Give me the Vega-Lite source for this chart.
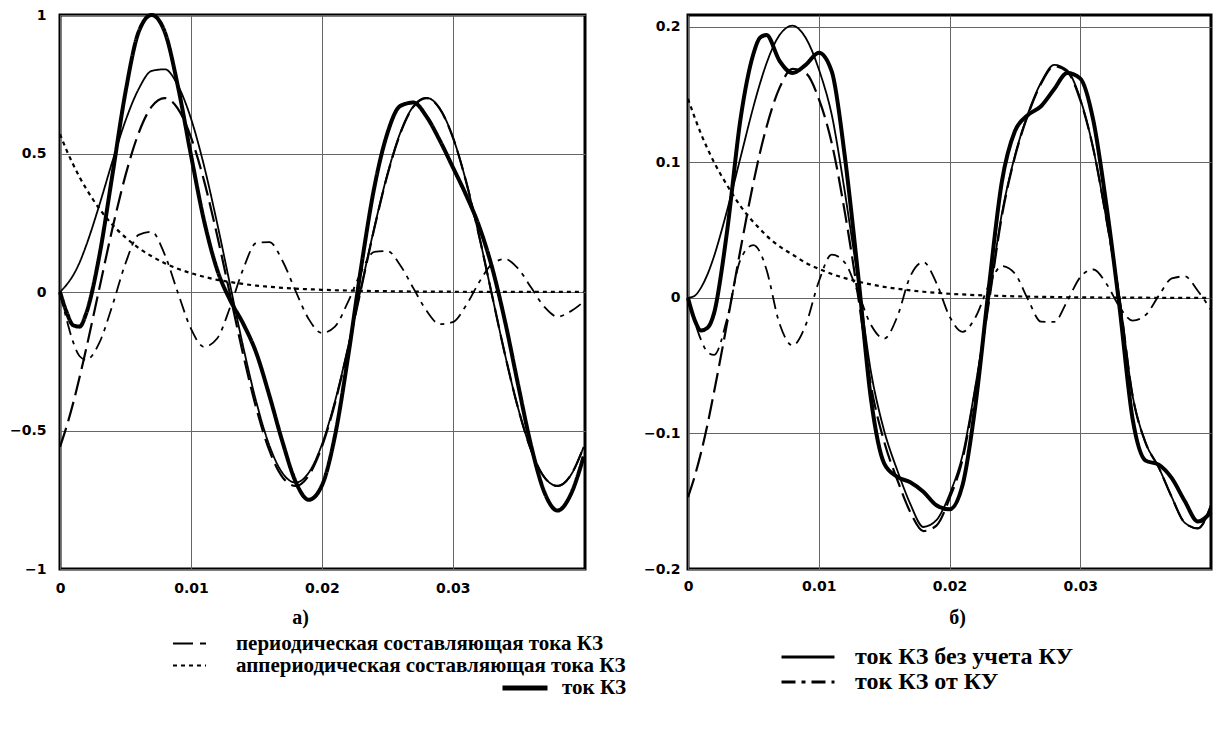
{
  "$schema": "https://vega.github.io/schema/vega-lite/v6.json",
  "background": "white",
  "padding": {"left": 7, "top": 5, "right": 0, "bottom": 5},
  "bounds": "flush",
  "spacing": 103,
  "resolve": {"scale": {"strokeDash": "independent"}, "legend": {"strokeDash": "independent"}},
  "config": {
    "view": {"stroke": "#000", "strokeWidth": 3},
    "axis": {"labelFont": "DejaVu Sans", "labelFontWeight": "bold", "labelFontSize": 14, "labelColor": "#000", "labelFlush": false, "domain": false, "ticks": false, "gridColor": "#666", "gridWidth": 1, "gridOpacity": 1, "titleFont": "Liberation Serif", "titleFontSize": 20, "titleFontWeight": "bold", "titleColor": "#000"},
    "legend": {"symbolType": "stroke", "symbolStrokeColor": "#000", "labelFont": "Liberation Serif", "labelFontSize": 21, "labelFontWeight": "bold", "labelColor": "#000", "labelLimit": 600, "padding": 0, "title": null},
    "line": {"interpolate": "monotone", "color": "#000"}
  },
  "datasets": {
    "a": [
      {"t":0,"P":-0.559,"D":0.57,"N":0,"K":0,"T":0},
      {"t":0.0005,"P":-0.486,"D":0.512,"N":0.026,"K":-0.098,"T":-0.072},
      {"t":0.001,"P":-0.402,"D":0.461,"N":0.06,"K":-0.18,"T":-0.12},
      {"t":0.0015,"P":-0.307,"D":0.414,"N":0.107,"K":-0.232,"T":-0.125},
      {"t":0.002,"P":-0.205,"D":0.373,"N":0.168,"K":-0.245,"T":-0.077},
      {"t":0.003,"P":0.012,"D":0.301,"N":0.313,"K":-0.184,"T":0.129},
      {"t":0.004,"P":0.228,"D":0.243,"N":0.471,"K":-0.049,"T":0.422},
      {"t":0.005,"P":0.421,"D":0.197,"N":0.618,"K":0.103,"T":0.721},
      {"t":0.006,"P":0.573,"D":0.159,"N":0.732,"K":0.206,"T":0.938},
      {"t":0.007,"P":0.669,"D":0.129,"N":0.798,"K":0.217,"T":1.0},
      {"t":0.008,"P":0.7,"D":0.104,"N":0.804,"K":0.135,"T":0.939},
      {"t":0.009,"P":0.662,"D":0.084,"N":0.746,"K":-0.002,"T":0.744},
      {"t":0.01,"P":0.559,"D":0.068,"N":0.627,"K":-0.132,"T":0.495},
      {"t":0.011,"P":0.402,"D":0.055,"N":0.456,"K":-0.198,"T":0.258},
      {"t":0.012,"P":0.205,"D":0.044,"N":0.249,"K":-0.168,"T":0.081},
      {"t":0.013,"P":-0.012,"D":0.036,"N":0.024,"K":-0.054,"T":-0.03},
      {"t":0.014,"P":-0.228,"D":0.029,"N":-0.199,"K":0.084,"T":-0.115},
      {"t":0.015,"P":-0.421,"D":0.023,"N":-0.398,"K":0.177,"T":-0.221},
      {"t":0.016,"P":-0.573,"D":0.019,"N":-0.555,"K":0.18,"T":-0.375},
      {"t":0.017,"P":-0.669,"D":0.015,"N":-0.654,"K":0.112,"T":-0.542},
      {"t":0.018,"P":-0.7,"D":0.012,"N":-0.688,"K":0.003,"T":-0.685},
      {"t":0.019,"P":-0.662,"D":0.01,"N":-0.652,"K":-0.098,"T":-0.75},
      {"t":0.02,"P":-0.559,"D":0.008,"N":-0.551,"K":-0.148,"T":-0.699},
      {"t":0.021,"P":-0.402,"D":0.0065,"N":-0.395,"K":-0.125,"T":-0.52},
      {"t":0.022,"P":-0.205,"D":0.0053,"N":-0.199,"K":-0.036,"T":-0.235},
      {"t":0.023,"P":0.012,"D":0.0043,"N":0.0165,"K":0.072,"T":0.089},
      {"t":0.024,"P":0.228,"D":0.0035,"N":0.231,"K":0.145,"T":0.376},
      {"t":0.025,"P":0.421,"D":0.0028,"N":0.424,"K":0.148,"T":0.572},
      {"t":0.026,"P":0.573,"D":0.0023,"N":0.576,"K":0.096,"T":0.672},
      {"t":0.027,"P":0.669,"D":0.0018,"N":0.671,"K":0.013,"T":0.684},
      {"t":0.028,"P":0.7,"D":0.0015,"N":0.701,"K":-0.068,"T":0.633},
      {"t":0.029,"P":0.662,"D":0.0012,"N":0.663,"K":-0.116,"T":0.548},
      {"t":0.03,"P":0.559,"D":0.001,"N":0.56,"K":-0.109,"T":0.451},
      {"t":0.031,"P":0.402,"D":0.0008,"N":0.402,"K":-0.05,"T":0.352},
      {"t":0.032,"P":0.205,"D":0.0006,"N":0.205,"K":0.034,"T":0.239},
      {"t":0.033,"P":-0.012,"D":0.0005,"N":-0.012,"K":0.101,"T":0.089},
      {"t":0.034,"P":-0.228,"D":0.0004,"N":-0.228,"K":0.119,"T":-0.108},
      {"t":0.035,"P":-0.421,"D":0.0003,"N":-0.421,"K":0.084,"T":-0.337},
      {"t":0.036,"P":-0.573,"D":0.0002,"N":-0.573,"K":0.015,"T":-0.558},
      {"t":0.037,"P":-0.669,"D":0.0002,"N":-0.669,"K":-0.054,"T":-0.723},
      {"t":0.038,"P":-0.7,"D":0.0001,"N":-0.7,"K":-0.089,"T":-0.789},
      {"t":0.039,"P":-0.662,"D":0.0001,"N":-0.662,"K":-0.07,"T":-0.732},
      {"t":0.04,"P":-0.559,"D":0.0001,"N":-0.559,"K":-0.035,"T":-0.594}
    ],
    "b": [
      {"t":0,"P":-0.147,"D":0.147,"N":0,"K":0,"T":0},
      {"t":0.0005,"P":-0.132,"D":0.1335,"N":0.0014,"K":-0.017,"T":-0.016},
      {"t":0.001,"P":-0.114,"D":0.121,"N":0.0076,"K":-0.031,"T":-0.024},
      {"t":0.0015,"P":-0.093,"D":0.11,"N":0.0176,"K":-0.04,"T":-0.022},
      {"t":0.002,"P":-0.069,"D":0.1,"N":0.031,"K":-0.042,"T":-0.011},
      {"t":0.003,"P":-0.018,"D":0.083,"N":0.065,"K":-0.015,"T":0.05},
      {"t":0.004,"P":0.035,"D":0.068,"N":0.103,"K":0.028,"T":0.131},
      {"t":0.005,"P":0.085,"D":0.056,"N":0.141,"K":0.039,"T":0.18},
      {"t":0.0055,"P":0.107,"D":0.051,"N":0.158,"K":0.034,"T":0.192},
      {"t":0.006,"P":0.126,"D":0.046,"N":0.173,"K":0.021,"T":0.194},
      {"t":0.007,"P":0.155,"D":0.038,"N":0.194,"K":-0.019,"T":0.175},
      {"t":0.008,"P":0.169,"D":0.032,"N":0.201,"K":-0.035,"T":0.166},
      {"t":0.009,"P":0.166,"D":0.026,"N":0.192,"K":-0.02,"T":0.172},
      {"t":0.01,"P":0.147,"D":0.0215,"N":0.169,"K":0.012,"T":0.181},
      {"t":0.011,"P":0.114,"D":0.0177,"N":0.135,"K":0.032,"T":0.167},
      {"t":0.012,"P":0.063,"D":0.0146,"N":0.078,"K":0.026,"T":0.104},
      {"t":0.013,"P":0.002,"D":0.0121,"N":0.014,"K":0.004,"T":0.018},
      {"t":0.014,"P":-0.065,"D":0.01,"N":-0.055,"K":-0.02,"T":-0.075},
      {"t":0.015,"P":-0.106,"D":0.0082,"N":-0.098,"K":-0.03,"T":-0.122},
      {"t":0.016,"P":-0.134,"D":0.0068,"N":-0.127,"K":-0.014,"T":-0.132},
      {"t":0.017,"P":-0.158,"D":0.0056,"N":-0.152,"K":0.016,"T":-0.136},
      {"t":0.018,"P":-0.172,"D":0.0046,"N":-0.169,"K":0.0265,"T":-0.143},
      {"t":0.019,"P":-0.168,"D":0.0038,"N":-0.164,"K":0.011,"T":-0.153},
      {"t":0.02,"P":-0.148,"D":0.0031,"N":-0.145,"K":-0.0135,"T":-0.156},
      {"t":0.021,"P":-0.119,"D":0.0026,"N":-0.116,"K":-0.025,"T":-0.138},
      {"t":0.022,"P":-0.066,"D":0.0021,"N":-0.064,"K":-0.014,"T":-0.078},
      {"t":0.023,"P":-0.004,"D":0.0018,"N":-0.002,"K":0.009,"T":0.007},
      {"t":0.024,"P":0.06,"D":0.0015,"N":0.062,"K":0.0235,"T":0.0855},
      {"t":0.025,"P":0.104,"D":0.0012,"N":0.105,"K":0.018,"T":0.123},
      {"t":0.026,"P":0.135,"D":0.001,"N":0.136,"K":-0.001,"T":0.135},
      {"t":0.027,"P":0.158,"D":0.0008,"N":0.159,"K":-0.0175,"T":0.1415},
      {"t":0.028,"P":0.171,"D":0.0007,"N":0.172,"K":-0.0177,"T":0.154},
      {"t":0.029,"P":0.167,"D":0.0005,"N":0.168,"K":-0.0024,"T":0.166},
      {"t":0.03,"P":0.146,"D":0.0005,"N":0.147,"K":0.0153,"T":0.162},
      {"t":0.031,"P":0.11,"D":0.0004,"N":0.11,"K":0.021,"T":0.131},
      {"t":0.032,"P":0.058,"D":0.0003,"N":0.058,"K":0.0105,"T":0.0685},
      {"t":0.033,"P":0.0,"D":0.0003,"N":0.0,"K":-0.0065,"T":-0.0065},
      {"t":0.034,"P":-0.072,"D":0.0002,"N":-0.072,"K":-0.0167,"T":-0.089},
      {"t":0.035,"P":-0.107,"D":0.0002,"N":-0.107,"K":-0.0126,"T":-0.12},
      {"t":0.036,"P":-0.125,"D":0.0001,"N":-0.125,"K":0.0016,"T":-0.123},
      {"t":0.037,"P":-0.147,"D":0.0001,"N":-0.147,"K":0.0144,"T":-0.133},
      {"t":0.038,"P":-0.166,"D":0.0001,"N":-0.166,"K":0.0159,"T":-0.15},
      {"t":0.039,"P":-0.17,"D":0.0001,"N":-0.17,"K":0.0051,"T":-0.165},
      {"t":0.04,"P":-0.153,"D":0.0001,"N":-0.153,"K":-0.0087,"T":-0.158}
    ]
  },
  "hconcat": [
    {
      "width": 525,
      "height": 554,
      "data": {"name": "a"},
      "resolve": {"scale": {"strokeDash": "independent"}, "legend": {"strokeDash": "independent"}},
      "encoding": {
        "x": {"field": "t", "type": "quantitative", "scale": {"domain": [0, 0.0401], "nice": false, "zero": false},
              "axis": {"values": [0, 0.01, 0.02, 0.03], "format": "~g", "labelPadding": 12, "grid": true, "title": "а)", "titleX": 240, "titleY": 48, "titleBaseline": "middle"}},
        "y": {"field": "v", "type": "quantitative", "scale": {"domain": [-1, 1], "nice": false},
              "axis": {"values": [-1, -0.5, 0, 0.5, 1], "format": "~g", "labelPadding": 14, "grid": true, "title": null}}
      },
      "layer": [
        {
          "transform": [{"fold": ["P"], "as": ["s", "v"]}],
          "mark": {"type": "line", "strokeWidth": 2.2},
          "encoding": {
            "strokeDash": {"field": "s", "type": "nominal",
              "scale": {"domain": ["P"], "range": [[20, 7]]},
              "legend": {"orient": "none", "legendX": 112, "legendY": 611, "symbolSize": 1089, "symbolStrokeWidth": 2, "labelOffset": 29,
                "labelExpr": "'периодическая составляющая тока КЗ'"}}
          }
        },
        {
          "transform": [{"fold": ["D"], "as": ["s", "v"]}],
          "mark": {"type": "line", "strokeWidth": 2.2},
          "encoding": {
            "strokeDash": {"field": "s", "type": "nominal",
              "scale": {"domain": ["D"], "range": [[4, 4]]},
              "legend": {"orient": "none", "legendX": 112, "legendY": 633, "symbolSize": 1089, "symbolStrokeWidth": 2, "labelOffset": 29,
                "labelExpr": "'аппериодическая составляющая тока КЗ'"}}
          }
        },
        {
          "transform": [{"fold": ["N"], "as": ["s", "v"]}],
          "mark": {"type": "line", "strokeWidth": 1.8},
          "encoding": {
            "strokeDash": {"field": "s", "type": "nominal",
              "scale": {"domain": ["N"], "range": [[1, 0]]},
              "legend": {"orient": "none", "legendX": 720, "legendY": 614, "symbolSize": 2809, "symbolStrokeWidth": 3, "labelOffset": 19, "labelFontSize": 24,
                "labelExpr": "'ток КЗ без учета КУ'"}}
          }
        },
        {
          "transform": [{"fold": ["K"], "as": ["s", "v"]}],
          "mark": {"type": "line", "strokeWidth": 1.8},
          "encoding": {
            "strokeDash": {"field": "s", "type": "nominal",
              "scale": {"domain": ["K"], "range": [[14, 6, 4, 6]]},
              "legend": {"orient": "none", "legendX": 720, "legendY": 639, "symbolSize": 2809, "symbolStrokeWidth": 3, "labelOffset": 19, "labelFontSize": 24,
                "labelExpr": "'ток КЗ от КУ'"}}
          }
        },
        {
          "transform": [{"fold": ["T"], "as": ["s", "v"]}],
          "mark": {"type": "line", "strokeWidth": 4},
          "encoding": {
            "strokeDash": {"field": "s", "type": "nominal",
              "scale": {"domain": ["T"], "range": [[1, 0]]},
              "legend": {"orient": "none", "legendX": 440, "legendY": 648, "symbolSize": 2025, "symbolStrokeWidth": 5, "labelOffset": 12,
                "labelExpr": "'ток КЗ'"}}
          }
        }
      ]
    },
    {
      "width": 523,
      "height": 554,
      "data": {"name": "b"},
      "encoding": {
        "x": {"field": "t", "type": "quantitative", "scale": {"domain": [0, 0.04], "nice": false, "zero": false},
              "axis": {"values": [0, 0.01, 0.02, 0.03], "format": "~g", "labelPadding": 10, "grid": true, "title": "б)", "titleX": 269, "titleY": 48, "titleBaseline": "middle"}},
        "y": {"field": "v", "type": "quantitative", "scale": {"domain": [-0.2, 0.2088], "nice": false},
              "axis": {"values": [-0.2, -0.1, 0, 0.1, 0.2], "format": "~g", "labelPadding": 8, "grid": true, "title": null}}
      },
      "layer": [
        {"transform": [{"fold": ["P"], "as": ["s", "v"]}], "mark": {"type": "line", "strokeWidth": 2.2, "strokeDash": [20, 7]}},
        {"transform": [{"fold": ["D"], "as": ["s", "v"]}], "mark": {"type": "line", "strokeWidth": 2.2, "strokeDash": [4, 4]}},
        {"transform": [{"fold": ["N"], "as": ["s", "v"]}], "mark": {"type": "line", "strokeWidth": 1.8}},
        {"transform": [{"fold": ["K"], "as": ["s", "v"]}], "mark": {"type": "line", "strokeWidth": 1.8, "strokeDash": [14, 6, 4, 6]}},
        {"transform": [{"fold": ["T"], "as": ["s", "v"]}], "mark": {"type": "line", "strokeWidth": 4}}
      ]
    }
  ]
}
